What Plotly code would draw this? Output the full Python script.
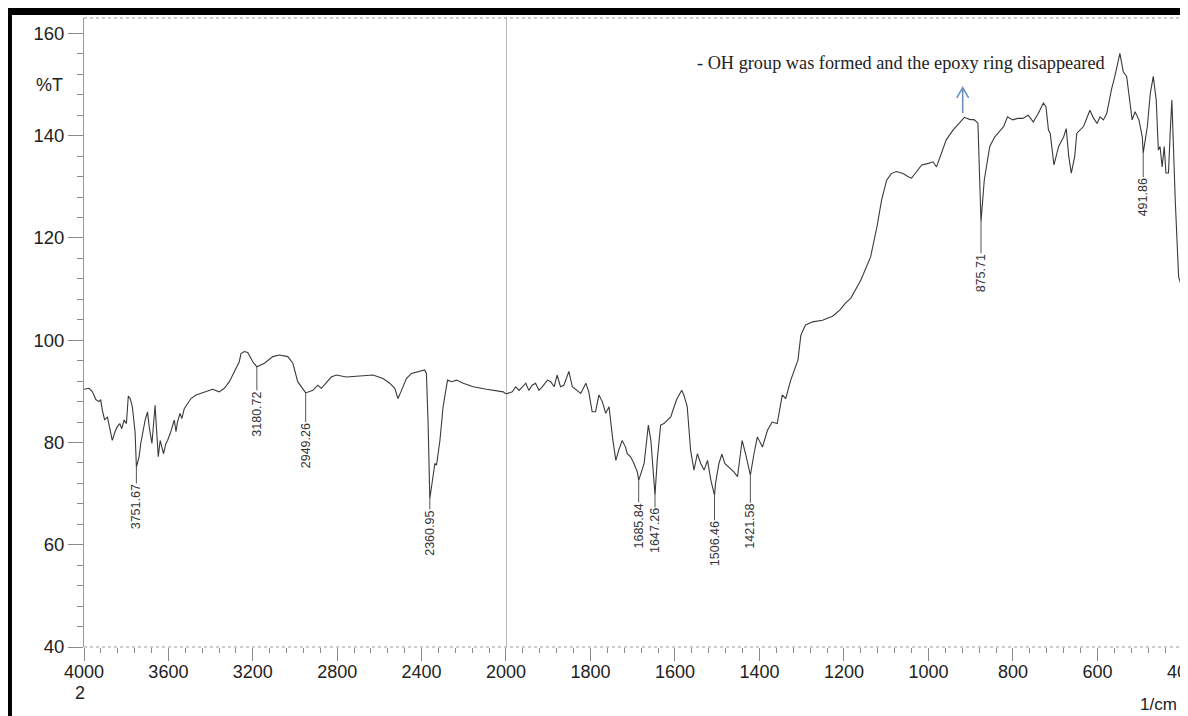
import numpy as np
import plotly.graph_objects as go

# ---------------- data ----------------
wavenumber = [
    4000, 3976, 3960, 3944, 3929, 3921, 3913, 3902, 3889, 3881, 3866, 3853, 3842, 3830,
    3821, 3810, 3799, 3790, 3781, 3771, 3758, 3751.67, 3739, 3731, 3720, 3710, 3699,
    3691, 3678, 3672, 3663, 3657, 3648, 3639, 3631, 3623, 3612, 3604, 3591, 3583, 3572,
    3564, 3557, 3545, 3536, 3525, 3509, 3493, 3469, 3446, 3422, 3390, 3359, 3335, 3311,
    3287, 3264, 3256, 3240, 3224, 3200, 3180.72, 3145, 3105, 3074, 3034, 3010, 2987,
    2970, 2949.26, 2915, 2892, 2875, 2852, 2828, 2804, 2757, 2693, 2630, 2583, 2551,
    2527, 2512, 2495, 2472, 2448, 2417, 2385, 2377, 2369, 2360.95, 2345, 2337, 2329,
    2313, 2298, 2277, 2258, 2234, 2203, 2155, 2092, 2044, 2013, 2000,
    1985, 1977, 1969, 1961, 1953, 1946, 1938, 1930, 1922, 1914, 1902, 1894, 1886, 1879,
    1871, 1863, 1851, 1843, 1831, 1823, 1811, 1804, 1796, 1788, 1780, 1772, 1764, 1756,
    1748, 1740, 1733, 1725, 1717, 1713, 1705, 1697, 1689, 1685.84, 1673, 1663, 1657,
    1647.26, 1642, 1634, 1626, 1618, 1610, 1602, 1595, 1584, 1579, 1571, 1563, 1555,
    1547, 1539, 1531, 1523, 1515, 1506.46, 1504, 1496, 1489, 1482, 1472, 1460, 1452,
    1441, 1433, 1421.58, 1413, 1405, 1393, 1381, 1370, 1358, 1346, 1338, 1326, 1318,
    1309, 1302, 1291, 1274, 1251, 1227, 1210, 1196, 1184, 1160, 1137, 1122, 1111, 1099,
    1088, 1076, 1060, 1048, 1040, 1028, 1016, 1000, 989, 981, 973, 958, 942, 926, 915,
    903, 891, 883, 880, 875.71, 868, 855, 843, 822, 813, 801, 789, 777, 764, 752, 740,
    728, 722, 716, 712, 703, 692, 680, 674, 668, 662, 654, 649, 633, 618, 609, 601, 594,
    586, 578, 567, 559, 547, 539, 531, 523, 518, 511, 502, 494, 491.86, 482, 475, 468,
    461, 456, 452, 447, 442, 438, 432, 428, 424, 416, 408, 403, 400,
]
transmittance = [
    90.4, 90.6, 89.9, 88.4, 88.0, 88.4, 86.3, 84.4, 85.0, 83.1, 80.4, 82.1, 83.1, 83.7,
    82.7, 84.4, 83.7, 89.1, 88.6, 87.0, 82.1, 75.2, 77.2, 79.8, 82.7, 84.4, 86.0,
    83.1, 79.8, 83.1, 87.3, 83.1, 77.2, 80.4, 79.1, 77.8, 79.8, 80.4, 81.8, 83.1, 84.4,
    82.1, 84.0, 85.7, 84.7, 86.6, 87.6, 88.6, 89.3, 89.6, 89.9, 90.4, 89.9, 90.6, 91.9,
    93.8, 95.8, 97.4, 97.8, 97.6, 95.8, 94.8, 95.5, 96.8, 97.1, 96.8, 95.5, 91.9,
    90.9, 89.7, 90.2, 91.2, 90.6, 91.6, 92.8, 93.2, 92.8, 93.0, 93.2, 92.5, 91.6,
    90.6, 88.6, 90.2, 92.5, 93.5, 93.8, 94.2, 93.5, 83.7, 69.0, 74.0, 75.9, 75.6,
    80.4, 87.0, 92.2, 91.9, 92.2, 91.6, 90.9, 90.4, 90.1, 89.9, 89.5,
    89.9, 90.9, 90.2, 90.9, 91.6, 90.2, 91.2, 91.6, 90.2, 90.9, 92.2, 91.9, 90.9, 93.2,
    90.9, 91.2, 93.9, 90.9, 90.2, 89.6, 91.6, 89.9, 86.0, 86.0, 89.3, 88.0, 85.7, 87.0,
    81.1, 76.5, 78.5, 80.4, 79.1, 77.8, 77.2, 75.9, 74.2, 72.6, 75.9, 83.4, 80.4,
    69.7, 76.5, 83.4, 83.7, 84.4, 85.0, 87.0, 88.6, 90.2, 89.3, 87.0, 78.5, 74.6,
    77.8, 75.9, 74.6, 76.5, 72.6, 69.7, 72.0, 75.9, 77.7, 75.9, 75.2, 74.2, 73.3,
    80.4, 77.8, 73.6, 77.8, 81.1, 79.1, 82.4, 84.0, 83.7, 89.3, 88.6, 92.2, 94.2,
    96.1, 101.0, 103.0, 103.6, 103.9, 104.7, 105.9, 107.3, 108.2, 111.8, 116.3, 122.2, 127.4, 131.3,
    132.6, 133.0, 132.6, 132.0, 131.7, 133.0, 134.3, 134.6, 134.9, 133.9, 135.9, 139.2, 141.1, 142.7, 143.6,
    143.2, 143.1, 142.4, 135.9, 123.2, 131.3, 137.9, 139.8, 141.8, 143.7, 143.1, 143.4, 143.4, 144.0, 142.7, 144.4,
    146.4, 145.7, 141.1, 140.5, 134.3, 137.9, 139.8, 141.4, 135.9, 132.7, 135.9, 140.5, 141.8, 145.0, 143.4, 142.4, 143.7,
    143.1, 144.4, 149.0, 151.6, 156.1, 152.5, 151.6, 147.0, 143.1, 144.7, 143.1, 139.8, 136.6, 141.8, 148.3, 151.6,
    147.0, 137.2, 137.9, 133.9, 137.9, 132.7, 132.7, 140.5, 147.0, 127.4, 112.4, 111.1, 131.3,
]

peak_wn = [3751.67, 3180.72, 2949.26, 2360.95, 1685.84, 1647.26, 1506.46, 1421.58, 875.71, 491.86]
peak_labels = ["3751.67", "3180.72", "2949.26", "2360.95", "1685.84", "1647.26",
               "1506.46", "1421.58", "875.71", "491.86"]
peak_T = [75.2, 94.8, 89.7, 69.0, 72.6, 69.7, 69.7, 73.6, 123.2, 136.6]
label_T = [72.0, 90.2, 84.0, 66.9, 68.3, 67.3, 64.8, 68.2, 117.0, 131.9]

left_ticks = [4000, 3600, 3200, 2800, 2400]
right_ticks = [2000, 1800, 1600, 1400, 1200, 1000, 800, 600, 400]
y_ticks = [40, 60, 80, 100, 120, 140, 160]

note_text = "- OH group was formed and the epoxy ring disappeared"

# ---------------- figure ----------------
wn = np.array(wavenumber, dtype=float)
T = np.array(transmittance, dtype=float)
left = wn >= 2000
right = wn <= 2000

LINE = "#3a3a3a"
TICKC = "#8a8a8a"
FONT = "Liberation Sans"

fig = go.Figure()
fig.add_trace(go.Scatter(x=wn[left], y=T[left], xaxis="x", yaxis="y", mode="lines",
                         line=dict(color=LINE, width=1.1), hoverinfo="skip", showlegend=False))
fig.add_trace(go.Scatter(x=wn[right], y=T[right], xaxis="x2", yaxis="y", mode="lines",
                         line=dict(color=LINE, width=1.1), hoverinfo="skip", showlegend=False))

split = 0.3843
common_x = dict(showgrid=False, zeroline=False, showline=False, ticks="outside", ticklen=13,
                tickwidth=1, tickcolor=TICKC, anchor="y", ticklabelstandoff=-5,
                ticklabeloverflow="allow", automargin=False,
                tickfont=dict(family=FONT, size=18, color="#222"))

fig.update_layout(
    width=1180, height=708,
    margin=dict(l=76, r=6, t=10, b=69, autoexpand=False),
    paper_bgcolor="white", plot_bgcolor="white",
    xaxis=dict(domain=[0, split], range=[4000, 2000], tickmode="array", tickvals=left_ticks,
               ticktext=[str(v) for v in left_ticks],
               minor=dict(ticks="outside", ticklen=5, tickcolor=TICKC, tickmode="linear",
                          tick0=4000, dtick=80, showgrid=False),
               **common_x),
    xaxis2=dict(domain=[split, 1], range=[2000, 400], tickmode="array", tickvals=right_ticks,
                ticktext=[str(v) for v in right_ticks],
                minor=dict(ticks="outside", ticklen=5, tickcolor=TICKC, tickmode="linear",
                           tick0=2000, dtick=40, showgrid=False),
                **common_x),
    yaxis=dict(range=[40, 163.03], tickmode="array", tickvals=y_ticks,
               ticktext=[str(v) for v in y_ticks], ticks="outside", ticklen=15, tickwidth=1,
               tickcolor=TICKC, showline=True, linecolor="#999", linewidth=1,
               showgrid=False, zeroline=False, anchor="x", automargin=False,
               minor=dict(ticks="outside", ticklen=6, tickcolor=TICKC, tickmode="linear",
                          tick0=40, dtick=4, showgrid=False),
               tickfont=dict(family=FONT, size=18.5, color="#222")),
)

shapes = []
# dotted bottom / top frame lines
for yy in (0, 1):
    shapes.append(dict(type="line", xref="paper", yref="paper", x0=0, x1=1, y0=yy, y1=yy,
                       line=dict(color="#9a9a9a", width=1, dash="dot")))
# divider at 2000 1/cm
shapes.append(dict(type="line", xref="x2", yref="paper", x0=2000, x1=2000, y0=0, y1=1,
                   line=dict(color="#6a6a6a", width=1)))
# pen drop at the end of the scan
shapes.append(dict(type="line", xref="x2", yref="y", x0=403, x1=403, y0=40, y1=111.1,
                   line=dict(color="#555", width=1)))
# peak marker lines
for pw, pt, lt in zip(peak_wn, peak_T, label_T):
    xr = "x" if pw > 2000 else "x2"
    shapes.append(dict(type="line", xref=xr, yref="y", x0=pw, x1=pw, y0=pt, y1=lt,
                       line=dict(color="#555", width=1)))
# blue arrow
shapes.append(dict(type="path", xref="x2", yref="y",
                   path="M 919,144.4 L 919,149.4 M 905,147.4 L 919,149.4 L 933,147.4",
                   line=dict(color="#6b93bd", width=1.6)))
# black scan frame (left and top)
shapes.append(dict(type="rect", xref="paper", yref="paper", x0=-0.0719, x1=-0.0656,
                   y0=-0.13, y1=1.0159, fillcolor="black", line=dict(width=0)))
shapes.append(dict(type="rect", xref="paper", yref="paper", x0=-0.0719, x1=1.02,
                   y0=1.0048, y1=1.0159, fillcolor="black", line=dict(width=0)))

annotations = []
for pw, lt, lab in zip(peak_wn, label_T, peak_labels):
    xr = "x" if pw > 2000 else "x2"
    annotations.append(dict(x=pw, y=lt, xref=xr, yref="y", text=lab, textangle=-90,
                            showarrow=False, xanchor="center", yanchor="top",
                            font=dict(family=FONT, size=12.5, color="#333"),
                            borderpad=0))
annotations.append(dict(x=0.5565, y=0.9285, xref="paper", yref="paper", text=note_text,
                        showarrow=False, xanchor="left", yanchor="middle",
                        font=dict(family="Liberation Serif", size=18.3, color="#222")))
annotations.append(dict(x=-0.031, y=150, xref="paper", yref="y", text="%T", showarrow=False,
                        xanchor="center", yanchor="middle",
                        font=dict(family=FONT, size=18, color="#222")))
annotations.append(dict(x=-0.0036, y=-0.0731, xref="paper", yref="paper", text="2",
                        showarrow=False, xanchor="center", yanchor="middle",
                        font=dict(family=FONT, size=18, color="#222")))
annotations.append(dict(x=0.979, y=-0.0922, xref="paper", yref="paper", text="1/cm",
                        showarrow=False, xanchor="center", yanchor="middle",
                        font=dict(family=FONT, size=17, color="#222")))

fig.update_layout(shapes=shapes, annotations=annotations)
fig.write_html("out.html")
